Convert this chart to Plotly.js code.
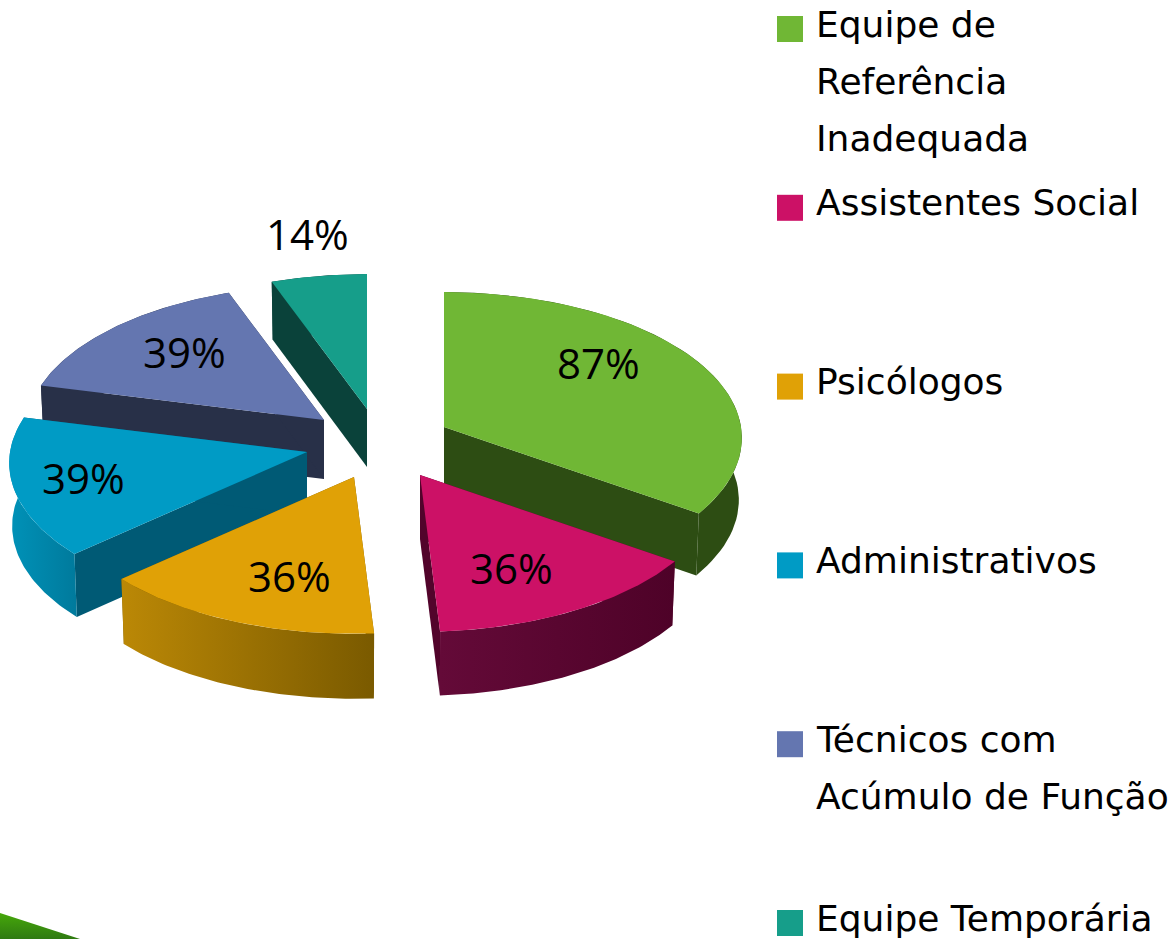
<!DOCTYPE html>
<html>
<head>
<meta charset="utf-8">
<script src="https://cdn.plot.ly/plotly-3.0.1.min.js"></script>
<style>html,body{margin:0;padding:0;background:#fff}#chart{width:1173px;height:939px}</style>
</head>
<body>
<div id="chart"></div>
<script>
// ---- data ----
var categories = ['Equipe de Referência Inadequada','Assistentes Social','Psicólogos','Administrativos','Técnicos com Acúmulo de Função','Equipe Temporária'];
var values = [87, 36, 36, 39, 39, 14];
var legendLines = [['Equipe de','Referência','Inadequada'],['Assistentes Social'],['Psicólogos'],['Administrativos'],['Técnicos com','Acúmulo de Função'],['Equipe Temporária']];

// ---- styling ----
var topColors = ['#70b735','#cc1166','#e0a106','#009bc5','#6476b0','#169e8a'];
var faceColors = ['#2d4d13','#52042b','#7a5a00','#005a75','#283048','#0a423a'];
var wallFrom = ['#2d4d13','#640a38','#bb8806','#0092b8','#283048','#0a423a'];
var wallTo = ['#2d4d13','#4e0228','#7a5a00','#007a9c','#283048','#0a423a'];
var originX = [444, 420, 354, 307, 324, 367];
var originY = [427, 475, 477, 452, 420, 409];
var depths = [62, 64, 65, 63, 59, 58];
var drawOrder = [5, 4, 0, 3, 2, 1];
var labelX = [598, 511, 289, 83, 184, 307];
var labelY = [362, 567, 575, 477, 351, 233];
var RX = 297, RY = 145, PERSP = 0.075, BASE_SCALE = 0.99, STEPS = 60;
var legendX = 790, legendTextX = 814, legendTop = 29, legendStep = 178.8, lineStep = 57;
var textFont = 'DejaVu Sans';

// ---- projection of the tilted, exploded pie ----
var total = values.reduce(function(a, b){ return a + b; }, 0);
function rim(i, deg){
  var t = deg * Math.PI / 180, c = Math.cos(t), s = 1 / (1 + PERSP * c);
  return [originX[i] + RX * Math.sin(t) * s, originY[i] - RY * c * s];
}
function lower(i, p){
  return [originX[i] + (p[0] - originX[i]) * BASE_SCALE, p[1] + depths[i]];
}
var traces = [];
function poly(xs, ys, color, gradFrom, gradTo){
  var tr = {x: xs, y: ys, mode: 'lines', fill: 'toself', line: {width: 0}, hoverinfo: 'skip', showlegend: false, fillcolor: color};
  if (gradFrom) tr.fillgradient = {type: 'horizontal', colorscale: [[0, gradFrom], [1, gradTo]]};
  traces.push(tr);
}
var starts = [], acc = 0;
values.forEach(function(v){ starts.push(acc); acc += v; });
drawOrder.forEach(function(i){
  var a0 = starts[i] / total * 360, a1 = (starts[i] + values[i]) / total * 360, d = depths[i];
  var pts = [];
  for (var k = 0; k <= STEPS; k++) pts.push(rim(i, a0 + (a1 - a0) * k / STEPS));
  var first = pts[0], last = pts[pts.length - 1], ox = originX[i], oy = originY[i];
  var lf = lower(i, first), ll = lower(i, last);
  // two flat faces
  poly([ox, first[0], lf[0], ox, ox], [oy, first[1], lf[1], oy + d, oy], faceColors[i]);
  poly([ox, last[0], ll[0], ox, ox], [oy, last[1], ll[1], oy + d, oy], faceColors[i]);
  // curved outer wall
  var wx = pts.map(function(p){ return p[0]; }), wy = pts.map(function(p){ return p[1]; });
  var low = pts.map(function(p){ return lower(i, p); }).reverse();
  poly(wx.concat(low.map(function(p){ return p[0]; })), wy.concat(low.map(function(p){ return p[1]; })), wallFrom[i], wallFrom[i], wallTo[i]);
  // top
  poly([ox].concat(wx, [ox]), [oy].concat(wy, [oy]), topColors[i]);
});

// bottom-left decoration of the slide
traces.push({x: [0, 80, 0, 0], y: [913, 939, 939, 913], mode: 'lines', fill: 'toself', line: {width: 0}, hoverinfo: 'skip', showlegend: false,
  fillcolor: '#3f960f', fillgradient: {type: 'vertical', colorscale: [[0, '#2f7a12'], [1, '#46a80a']]}});

// legend squares
traces.push({x: values.map(function(){ return legendX; }), y: values.map(function(_, i){ return legendTop + i * legendStep; }),
  mode: 'markers', marker: {symbol: 'square', size: 26, color: topColors, line: {width: 0}}, hoverinfo: 'skip', showlegend: false});

var annotations = [];
values.forEach(function(v, i){
  annotations.push({x: labelX[i], y: labelY[i], xref: 'x', yref: 'y', text: v + '%', showarrow: false, xanchor: 'center', yanchor: 'middle',
    font: {family: 'Open Sans', size: 42, color: '#000'}});
  legendLines[i].forEach(function(line, j){
    annotations.push({x: legendTextX, y: legendTop - 5 + i * legendStep + j * lineStep, xref: 'x', yref: 'y', text: line, showarrow: false,
      xanchor: 'left', yanchor: 'middle', font: {family: textFont, size: 36, color: '#000'}});
  });
});

Plotly.newPlot('chart', traces, {
  width: 1173, height: 939, margin: {l: 0, r: 0, t: 0, b: 0}, paper_bgcolor: '#fff', plot_bgcolor: '#fff', showlegend: false,
  xaxis: {range: [0, 1173], visible: false, fixedrange: true},
  yaxis: {range: [939, 0], visible: false, fixedrange: true},
  annotations: annotations
}, {displayModeBar: false, staticPlot: true});
</script>
</body>
</html>
